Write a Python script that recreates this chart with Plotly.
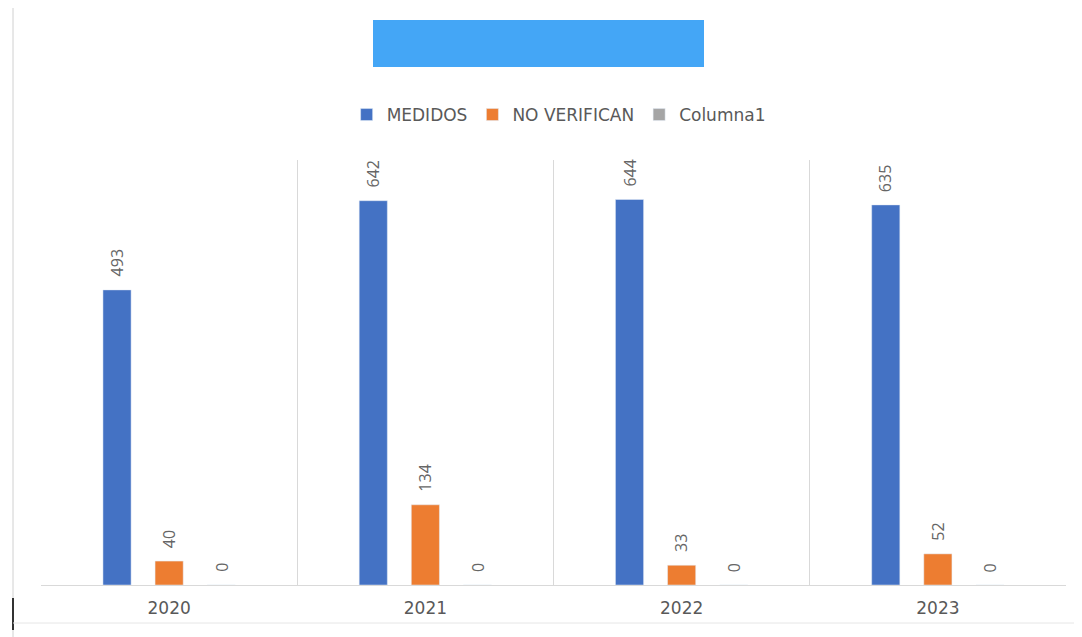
import plotly.graph_objects as go

years = ["2020", "2021", "2022", "2023"]
medidos = [493, 642, 644, 635]
no_verifican = [40, 134, 33, 52]
columna1 = [0, 0, 0, 0]

series = [
    ("MEDIDOS", medidos, "#4472C4"),
    ("NO VERIFICAN", no_verifican, "#ED7D31"),
    ("Columna1", columna1, "#A5A5A5"),
]

# page is drawn with an 8px body offset; positions below are in figure pixels
W, H = 1082, 637
OFF = 8
L, R, T, B = 41 - OFF, 24, 160 - OFF, 60
pw, ph = W - L - R, H - T - B
BARGAP = 0.39

def px(x):
    return (x - OFF - L) / pw

def py(y):
    return (H - B - (y - OFF)) / ph

fig = go.Figure()
annotations = []
step = (1 - BARGAP) * (pw / len(years)) / len(series)
for i, (name, vals, col) in enumerate(series):
    fig.add_trace(go.Bar(name=name, x=years, y=vals, marker_color=col))
    for j, v in enumerate(vals):
        annotations.append(dict(
            x=j, y=v, xref="x", yref="y", text=str(v), showarrow=False,
            textangle=-90, xanchor="center", yanchor="bottom",
            xshift=(i - 1) * step, yshift=11,
            font=dict(family="Open Sans", size=16, color="#666666"),
        ))

fig.update_layout(
    width=W, height=H,
    margin=dict(l=L, r=R, t=T, b=B),
    paper_bgcolor="white", plot_bgcolor="white",
    barmode="group", bargap=BARGAP, bargroupgap=0.46,
    font=dict(family="Open Sans", color="#595959"),
    showlegend=True,
    legend=dict(orientation="h", x=0.505, xanchor="center", y=py(115), yanchor="middle",
                font=dict(family="DejaVu Sans", size=17, color="#595959"), itemwidth=30),
    xaxis=dict(type="category", range=[-0.5, len(years) - 0.5],
               showgrid=True, gridcolor="#D9D9D9", tickson="boundaries", ticks="",
               showline=True, linecolor="#D9D9D9", linewidth=1, ticklabelstandoff=8,
               tickangle=0,
               tickfont=dict(family="DejaVu Sans", size=17, color="#595959"), fixedrange=True),
    yaxis=dict(range=[0, 710], showgrid=False, showticklabels=False, zeroline=False,
               showline=False, fixedrange=True),
    annotations=annotations,
    shapes=[
        dict(type="rect", xref="paper", yref="paper", x0=px(373), x1=px(704),
             y0=py(67), y1=py(20), fillcolor="#44A6F6", line=dict(width=0)),
        dict(type="line", xref="paper", yref="paper", x0=px(13), x1=px(13),
             y0=py(8), y1=py(645), line=dict(color="#D0D0D0", width=1)),
        dict(type="line", xref="paper", yref="paper", x0=px(13), x1=px(13),
             y0=py(598), y1=py(630), line=dict(color="#333333", width=2)),
        dict(type="line", xref="paper", yref="paper", x0=px(13), x1=px(1090),
             y0=py(623), y1=py(623), line=dict(color="#E6E6E6", width=1)),
    ],
)

fig.write_html("out.html")
